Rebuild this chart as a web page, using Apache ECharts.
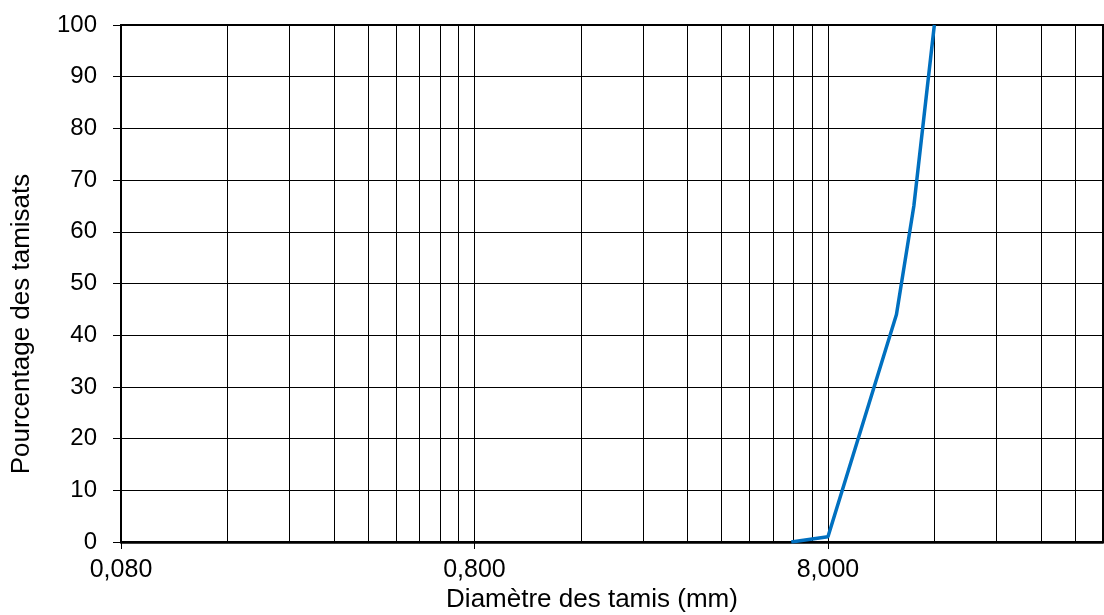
<!DOCTYPE html>
<html>
<head>
<meta charset="utf-8">
<script src="https://cdn.jsdelivr.net/npm/echarts@6/dist/echarts.min.js"></script>
<style>
html,body{margin:0;padding:0;background:#fff;}
#chart{width:1104px;height:615px;}
</style>
</head>
<body>
<div id="chart"></div>
<script>
// Sieve diameters (mm) and cumulative passing (%)
const sieveSizes = [6.3, 8, 12.5, 14, 16];
const passing = [0, 1, 44, 65, 100];
// Tick labels / gridline positions on the log axis
const xLabelValues = [0.08, 0.8, 8];
const xGridValues = [0.16, 0.24, 0.32, 0.4, 0.48, 0.56, 0.64, 0.72,
                     1.6, 2.4, 3.2, 4.0, 4.8, 5.6, 6.4, 7.2,
                     16, 24, 32, 40];
const xMin = 0.08, xMax = 48;
const yTicks = [0, 10, 20, 30, 40, 50, 60, 70, 80, 90, 100];
const xTitle = 'Diamètre des tamis (mm)';
const yTitle = 'Pourcentage des tamisats';

const FONT = '"Liberation Sans", Arial, sans-serif';
const chart = echarts.init(document.getElementById('chart'), null, {renderer: 'canvas'});
chart.setOption({
  animation: false,
  backgroundColor: '#fff',
  grid: {left: 121, right: 1, top: 25, bottom: 73, show: true, borderColor: '#000', borderWidth: 2, backgroundColor: 'transparent'},
  xAxis: {
    type: 'log', logBase: 10, min: xMin, max: xMax,
    axisLine: {show: true, onZero: false, lineStyle: {color: '#000', width: 2.5}},
    axisTick: {show: true, customValues: xLabelValues, length: 7, lineStyle: {color: '#000', width: 1}},
    axisLabel: {
      show: true, customValues: xLabelValues, margin: 16,
      fontFamily: FONT, fontSize: 25, color: '#000',
      formatter: v => Number(v).toFixed(3).replace('.', ',')
    },
    splitLine: {show: true, lineStyle: {color: '#000', width: 1}},
    minorTick: {show: false}, minorSplitLine: {show: false}
  },
  yAxis: {
    type: 'value', min: yTicks[0], max: yTicks[yTicks.length - 1], interval: 10,
    axisLine: {show: true, lineStyle: {color: '#000', width: 2}},
    axisTick: {show: true, inside: false, length: 8, lineStyle: {color: '#000', width: 1}},
    axisLabel: {margin: 24, fontFamily: FONT, fontSize: 24, color: '#000'},
    splitLine: {show: true, lineStyle: {color: '#000', width: 1}}
  },
  graphic: [
    {type: 'text', x: 22, y: 324, rotation: Math.PI / 2, style: {text: yTitle, font: '26px ' + FONT, fill: '#000', align: 'center', verticalAlign: 'middle'}},
    {type: 'text', x: 592, y: 600, style: {text: xTitle, font: '26px ' + FONT, fill: '#000', align: 'center', verticalAlign: 'middle'}}
  ],
  series: [{
    type: 'line',
    data: [],
    silent: true,
    z: 1,
    markLine: {
      silent: true,
      symbol: ['none', 'none'],
      label: {show: false},
      lineStyle: {color: '#000', width: 1, type: 'solid'},
      emphasis: {disabled: true},
      animation: false,
      data: xGridValues.map(v => ({xAxis: v}))
    }
  }, {
    type: 'line',
    data: sieveSizes.map((s, i) => [s, passing[i]]),
    symbol: 'none',
    lineStyle: {color: '#0070C0', width: 3.5},
    z: 5
  }]
});
</script>
</body>
</html>
